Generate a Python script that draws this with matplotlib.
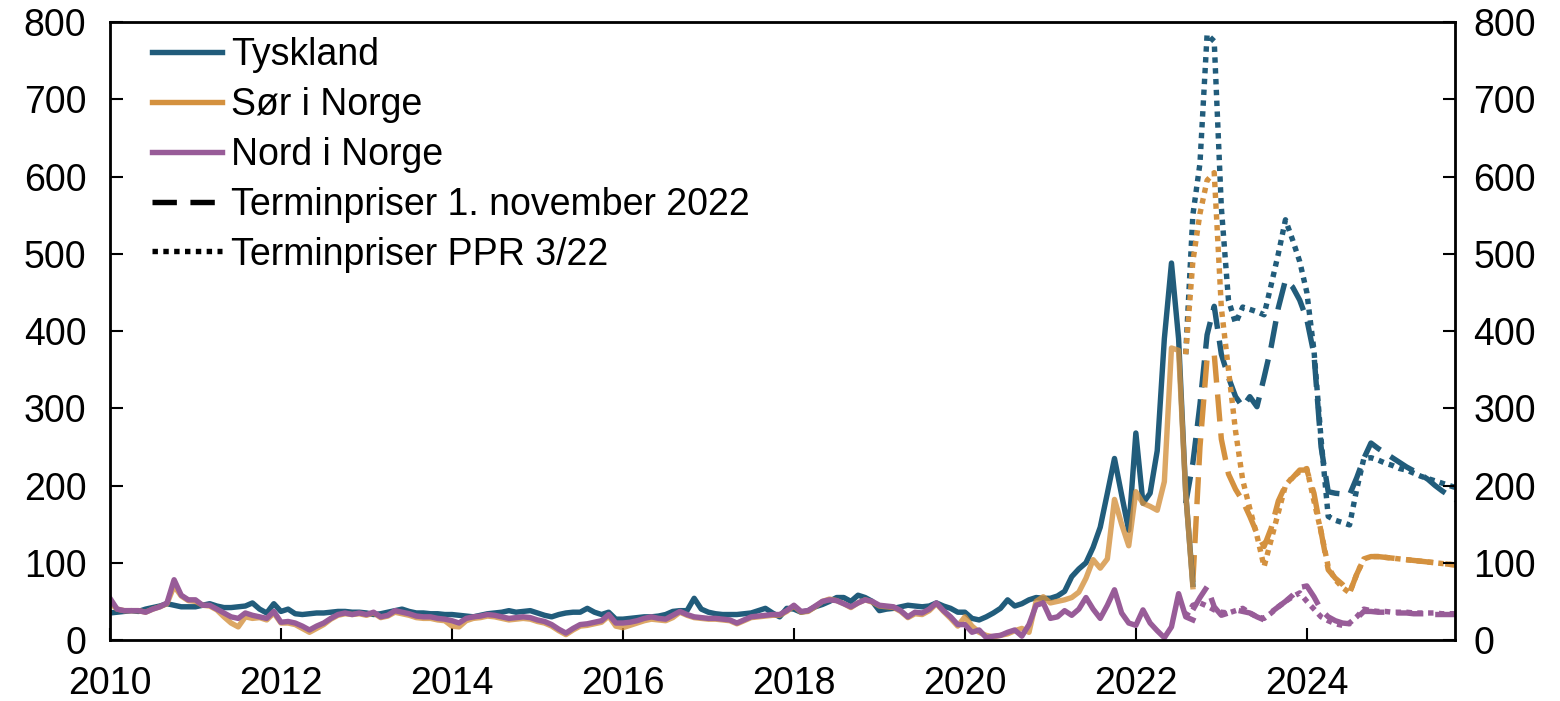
import matplotlib.pyplot as plt
import numpy as np

plt.rcParams['font.family'] = ['Liberation Sans', 'DejaVu Sans']

# monthly spot prices, jan 2010 - sep 2022
tyskland = [35, 36, 37, 38, 37, 40, 42, 44, 47, 45, 43, 43,
            43, 45, 47, 44, 42, 42, 43, 44, 48, 40, 35, 47,
            37, 40, 34, 33, 34, 35, 35, 36, 37, 37, 36, 36,
            35, 33, 34, 36, 38, 40, 37, 35, 35, 34, 34, 33,
            33, 32, 31, 30, 32, 34, 35, 36, 38, 36, 37, 38,
            35, 32, 30, 33, 35, 36, 36, 41, 36, 33, 36, 27,
            27, 28, 29, 30, 30, 31, 33, 37, 38, 38, 54, 40,
            36, 34, 33, 33, 33, 34, 35, 38, 41, 35, 30, 41,
            40, 36, 38, 43, 46, 50, 55, 55, 50, 58, 55, 50,
            38, 40, 41, 43, 45, 44, 43, 44, 48, 44, 41, 36,
            36, 28, 26, 30, 35, 41, 52, 44, 47, 52, 55, 54,
            54, 57, 63, 82, 92, 100, 120, 146, 190, 235, 188, 142,
            268, 177, 190, 245, 390, 488, 390, 190, 72]
sor = [48, 40, 38, 38, 38, 36, 40, 43, 47, 70, 57, 51,
       50, 45, 44, 39, 30, 22, 17, 30, 28, 29, 26, 35,
       22, 22, 20, 15, 10, 15, 20, 27, 32, 34, 33, 34,
       32, 35, 29, 31, 36, 34, 32, 29, 28, 28, 26, 25,
       18, 17, 25, 28, 29, 31, 30, 28, 26, 27, 28, 27,
       24, 22, 18, 12, 7, 13, 18, 19, 21, 23, 31, 18,
       16, 19, 22, 25, 27, 26, 25, 29, 36, 32, 29, 28,
       27, 27, 26, 25, 21, 25, 29, 30, 31, 32, 32, 37,
       44, 36, 37, 43, 50, 53, 51, 47, 42, 48, 52, 49,
       44, 43, 42, 37, 29, 34, 33, 38, 47, 37, 28, 18,
       30, 18, 10, 6, 4, 6, 8, 12, 15, 10, 50, 56,
       48, 50, 52, 55, 62, 80, 104, 93, 105, 182, 150, 122,
       192, 177, 173, 168, 205, 378, 375, 190, 69]
nord = [54, 40, 38, 38, 38, 36, 40, 43, 48, 78, 58, 52,
        52, 45, 45, 40, 35, 30, 28, 35, 32, 30, 28, 37,
        23, 24, 22, 18, 13, 18, 22, 28, 33, 35, 33, 35,
        33, 36, 30, 32, 38, 36, 34, 31, 30, 30, 28, 27,
        25, 22, 28, 30, 31, 33, 32, 30, 28, 29, 30, 29,
        26, 24, 20, 14, 9, 15, 20, 21, 23, 25, 33, 22,
        22, 23, 25, 28, 30, 28, 27, 32, 37, 33, 30, 29,
        28, 28, 27, 26, 22, 26, 30, 31, 32, 33, 33, 38,
        45, 37, 38, 44, 50, 52, 51, 47, 43, 48, 52, 50,
        45, 44, 43, 38, 30, 36, 35, 40, 48, 38, 30, 20,
        20, 10, 13, 3, 5, 6, 10, 13, 5, 20, 45, 48,
        28, 30, 38, 32, 40, 55, 40, 28, 45, 65, 35, 22,
        19, 39, 22, 12, 3, 17, 60, 30, 26]

# forward prices PPR 3/22, from aug 2022
ppr_start = 2022 + 7 / 12
ppr_tysk = [370, 550, 617, 784, 775, 560, 440, 410, 431, 428, 425, 421, 460,
            500, 544, 518, 490, 450, 375, 260, 160, 155, 152, 149, 195, 235,
            236, 233, 229, 226, 222, 220, 216, 212, 209, 206, 203, 200, 197]
ppr_sor = [370, 490, 552, 595, 605, 430, 350, 270, 207, 170, 135, 95, 130,
           165, 200, 211, 218, 222, 180, 140, 95, 78, 68, 61, 85, 105,
           108, 108, 107, 106, 105, 104, 103, 102, 101, 100, 99, 98, 97]
ppr_nord = [30, 45, 48, 44, 39, 36, 35, 38, 41, 35, 30, 28, 35,
            43, 50, 56, 61, 50, 40, 30, 25, 21, 19, 22, 30, 40,
            38, 37, 37, 36, 36, 36, 35, 35, 35, 35, 34, 34, 34]

# forward prices 1. november 2022
nov_tysk_start = 2022 + 7 / 12
nov_tysk = [177, 229, 305, 395, 432, 370, 340, 315, 302, 315, 302, 340, 380,
            430, 466, 457, 440, 415, 370, 250, 192, 190, 189, 188, 210, 235,
            255, 248, 242, 236, 230, 224, 219, 214, 208, 200, 193, 187, 181]
nov_start = 2022 + 8 / 12
nov_sor = [75, 250, 365, 370, 260, 215, 195, 180, 160, 138, 121, 145, 180,
           200, 210, 220, 220, 190, 140, 91, 80, 72, 61, 85, 105,
           108, 108, 107, 106, 105, 104, 103, 102, 101, 100, 99, 98, 97]
nov_nord = [39, 55, 69, 43, 32, 35, 39, 37, 35, 30, 26, 36, 43,
            50, 58, 68, 70, 56, 39, 30, 25, 22, 21, 28, 37,
            37, 36, 36, 35, 35, 35, 34, 34, 34, 33, 33, 33, 33]

blue = '#215C7B'
orange = '#D4913F'
purple = '#985C98'

def months(start, n):
    return start + np.arange(n) / 12

x = months(2010, len(tyskland))

fig, ax = plt.subplots(figsize=(15.6, 7.01), dpi=100)
fig.subplots_adjust(left=0.0705, right=0.9327, bottom=0.087, top=0.9686)

lw = 3.9
dot = (0, (1, 1))
dash = (0, (5, 2.2))
ax.plot(months(ppr_start, len(ppr_tysk)), ppr_tysk, color=blue, lw=lw, ls=dot, dash_capstyle='butt')
ax.plot(months(nov_tysk_start, len(nov_tysk)), nov_tysk, color=blue, lw=lw, ls=dash, dash_capstyle='butt')
ax.plot(months(ppr_start, len(ppr_sor)), ppr_sor, color=orange, lw=lw, ls=dot, dash_capstyle='butt')
ax.plot(months(nov_start, len(nov_sor)), nov_sor, color=orange, lw=lw, ls=dash, dash_capstyle='butt')
ax.plot(months(ppr_start, len(ppr_nord)), ppr_nord, color=purple, lw=lw, ls=dot, dash_capstyle='butt')
ax.plot(months(nov_start, len(nov_nord)), nov_nord, color=purple, lw=lw, ls=dash, dash_capstyle='butt')

l1, = ax.plot(x, tyskland, color=blue, lw=lw, label='Tyskland')
l2, = ax.plot(x, sor, color=orange, lw=lw, alpha=0.8, label='Sør i Norge')
l3, = ax.plot(x, nord, color=purple, lw=lw, label='Nord i Norge')
l4, = ax.plot([], [], color='black', lw=lw, ls=(0, (4.5, 2.5)), label='Terminpriser 1. november 2022')
l5, = ax.plot([], [], color='black', lw=lw, ls=dot, label='Terminpriser PPR 3/22')

ax.set_xlim(2010, 2025 + 8.8 / 12)
ax.set_ylim(0, 800)
ax.set_yticks(np.arange(0, 801, 100))
ax.set_xticks(np.arange(2010, 2025, 2))
ax.tick_params(direction='in', length=9, width=1.5, labelsize=27)
ax.tick_params(axis='y', pad=17)
ax.tick_params(axis='x', pad=19)
for s in ax.spines.values():
    s.set_linewidth(2)

ax2 = ax.twinx()
ax2.set_ylim(0, 800)
ax2.set_yticks(np.arange(0, 801, 100))
ax2.tick_params(direction='in', length=9, width=1.5, labelsize=27, pad=13)

leg = ax.legend(handles=[l1, l2, l3, l4, l5], loc='upper left', frameon=False,
                fontsize=27, handlelength=1.87, handletextpad=0.25,
                labelspacing=0.37, borderaxespad=0.0, bbox_to_anchor=(0.02, 1.0))
for h in leg.get_lines():
    h.set_alpha(1)

plt.savefig('out.png', dpi=100)
